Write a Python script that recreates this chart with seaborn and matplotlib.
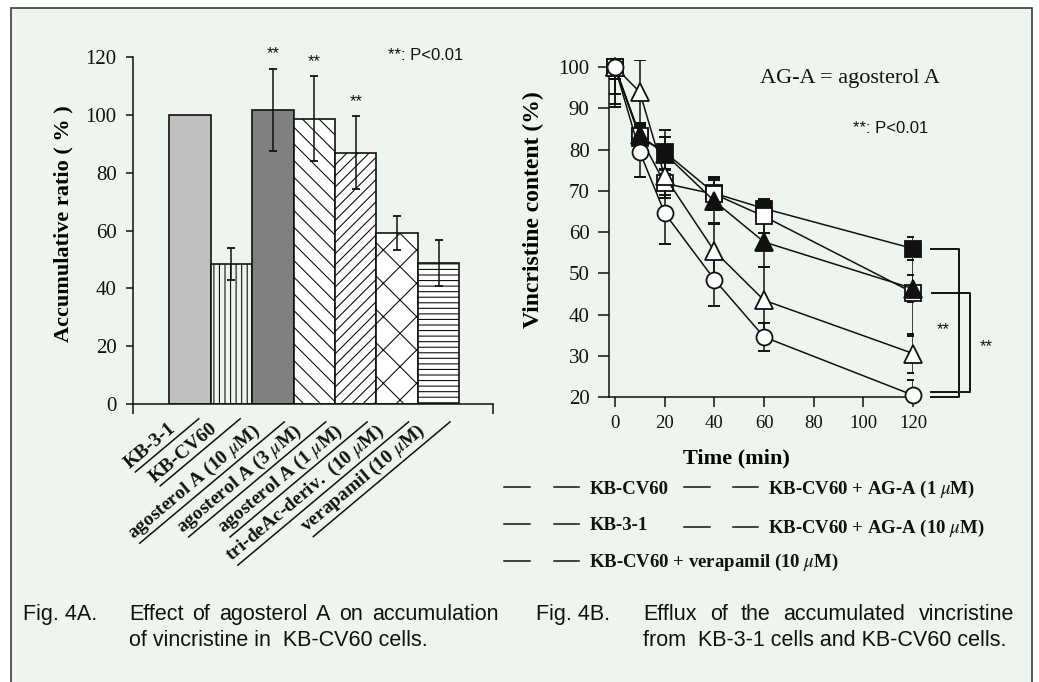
import numpy as np
import pandas as pd
import matplotlib
matplotlib.use("Agg")
import matplotlib.pyplot as plt
import matplotlib.transforms as mtransforms
from matplotlib.path import Path
from matplotlib.lines import Line2D
from matplotlib.patches import Rectangle
import seaborn as sns

# ---------------- data: Fig. 4A (bar chart) ----------------
bar_labels = ["KB-3-1", "KB-CV60", "agosterol A (10 $\\mu$M)", "agosterol A (3 $\\mu$M)",
              "agosterol A (1 $\\mu$M)", "tri-deAc-deriv.  (10 $\\mu$M)", "verapamil (10 $\\mu$M)"]
bar_values = [100.0, 48.4, 101.7, 98.6, 86.8, 59.2, 48.9]
bar_errors = [0.0, 5.5, 14.2, 14.6, 12.6, 5.8, 7.9]
bar_signif = ["", "", "**", "**", "**", "", ""]
bar_yticks = [0, 20, 40, 60, 80, 100, 120]

# ---------------- data: Fig. 4B (efflux curves) ----------------
time_min = [0, 10, 20, 40, 60, 120]
kb31_vals = [100, 82.9, 79.4, 69.4, 65.7, 56.0]          # filled square
kb31_err = [3.0, 3.0, 5.4, 4.0, 2.4, 2.7]
aga1_vals = [100, 83.2, 71.8, 69.2, 63.8, 45.3]          # open square
aga1_err = [6.5, 2.5, 3.5, 3.5, 4.0, 10.5]
aga10_vals = [100, 83.5, 79.0, 67.5, 57.6, 46.3]         # filled triangle
aga10_err = [3.0, 3.0, 4.0, 5.5, 6.0, 3.2]
verap_vals = [100, 93.9, 73.5, 55.4, 43.5, 30.6]         # open triangle
verap_err = [8.9, 7.7, 4.5, 6.7, 8.0, 4.7]
kbcv_vals = [100, 79.4, 64.6, 48.5, 34.6, 20.5]          # open circle
kbcv_err = [9.7, 6.0, 7.6, 6.4, 3.4, 3.8]
line_xticks = [0, 20, 40, 60, 80, 100, 120]
line_yticks = [20, 30, 40, 50, 60, 70, 80, 90, 100]

legend_col1 = ["KB-CV60", "KB-3-1", "KB-CV60 + verapamil (10 $\\mu$M)"]
legend_col2 = ["KB-CV60 + AG-A (1 $\\mu$M)", "KB-CV60 + AG-A (10 $\\mu$M)"]

# ---------------- styles ----------------
W, H, DPI = 1039, 682, 100
BG = "#eef5ee"
INK = "#111111"
SERIF = ["Liberation Serif", "DejaVu Serif"]
SANS = ["Liberation Sans", "DejaVu Sans"]
bar_colors = ["#c0c0c0", BG, "#808080", "white", "white", "white", "white"]
bar_hatches = [None, "|||", None, "\\\\", "///", "x", "---"]

plt.rcParams.update({
    "font.family": SERIF,
    "mathtext.fontset": "stix",
    "hatch.linewidth": 0.8,
    "hatch.color": INK,
    "axes.linewidth": 1.1,
    "axes.edgecolor": INK,
    "xtick.color": INK,
    "ytick.color": INK,
})

fig = plt.figure(figsize=(W / DPI, H / DPI), dpi=DPI, facecolor="white")


def fx(x):
    return x / W


def fy(y):
    return 1 - y / H


# panel frame
fig.add_artist(Rectangle((fx(11), fy(H + 5)), fx(1031.5) - fx(11), fy(7.5) - fy(H + 5),
                         transform=fig.transFigure, facecolor=BG, edgecolor="#3a3a3a",
                         linewidth=1.2, zorder=-10))

# ================= Fig. 4A =================
ax1 = fig.add_axes([fx(133.3), fy(404.3), fx(493.3) - fx(133.3), fy(56.7) - fy(404.3)])
ax1.set_facecolor("none")
df_bar = pd.DataFrame({"cond": bar_labels, "ratio": bar_values})
sns.barplot(data=df_bar, x="cond", y="ratio", hue="cond", palette=bar_colors,
            saturation=1, width=1.0, edgecolor=INK, linewidth=1.2, errorbar=None,
            legend=False, ax=ax1)
for patch, hatch in zip(ax1.patches, bar_hatches):
    if hatch:
        patch.set_hatch(hatch)

idx = [i for i, e in enumerate(bar_errors) if e > 0]
ax1.errorbar([i for i in idx], [bar_values[i] for i in idx], yerr=[bar_errors[i] for i in idx],
             fmt="none", ecolor=INK, elinewidth=1.1, capsize=3, capthick=1.3, zorder=5)

for i, s in enumerate(bar_signif):
    if s:
        ax1.text(i, bar_values[i] + bar_errors[i] + 5, s, ha="center", va="center",
                 fontsize=12, family=SANS, color=INK)
ax1.text(4.78, 118.7, "**: P<0.01", ha="left", va="baseline", fontsize=12,
         family=SANS, color=INK)

xl0, xl1 = -1.37, 7.32
ax1.set_xlim(xl0, xl1)
ax1.set_ylim(0, 120)
ax1.set_yticks(bar_yticks)
ax1.set_yticklabels([str(v) for v in bar_yticks], fontsize=15)
ax1.set_xticks([])
ax1.set_xticks([xl0, xl1], minor=True)
ax1.tick_params(axis="x", which="minor", length=7, width=1.1, direction="out")
ax1.tick_params(axis="y", length=5, width=1.1, direction="out", pad=7)
ax1.set_xlabel("")
for side in ("top", "right"):
    ax1.spines[side].set_visible(False)
ax1.set_ylabel("Accumulative ratio ( % )", fontsize=16, fontweight="bold", va="center")
ax1.yaxis.set_label_coords(-0.1953, 0.5207)


def underline_box(x0, y0, width, height, mutation_size):
    yy = y0 - 0.08 * mutation_size
    return Path([(x0 + 0.1 * mutation_size, yy), (x0 + width + 1.3 * mutation_size, yy)])


lab_tr = ax1.get_xaxis_transform() + mtransforms.ScaledTranslation(-0.22, -0.16, fig.dpi_scale_trans)
for i, lab in enumerate(bar_labels):
    ax1.text(i, 0, lab, transform=lab_tr, rotation=40, rotation_mode="anchor",
             ha="right", va="top", fontsize=14, fontweight="bold", color=INK,
             bbox=dict(boxstyle=underline_box, facecolor="none", edgecolor=INK, linewidth=1.1))

# ================= Fig. 4B =================
ax2 = fig.add_axes([fx(609), fy(397.3), fx(913.2) - fx(609), fy(60.3) - fy(397.3)])
ax2.set_facecolor("none")
series = [
    (kb31_vals, kb31_err, "s", INK, 3),
    (aga1_vals, aga1_err, "s", "white", 4),
    (aga10_vals, aga10_err, "^", INK, 5),
    (verap_vals, verap_err, "^", "white", 6),
    (kbcv_vals, kbcv_err, "o", "white", 7),
]
for vals, errs, mk, fc, z in series:
    ax2.errorbar(time_min, vals, yerr=errs, fmt="none", ecolor=INK, elinewidth=1.1,
                 capsize=4.5, capthick=1.4, zorder=2)
    sns.lineplot(x=time_min, y=vals, ax=ax2, color=INK, linewidth=1.1, marker=mk,
                 markersize=11.5 if mk != "^" else 12.5, markerfacecolor=fc,
                 markeredgecolor=INK, markeredgewidth=1.3, errorbar=None, legend=False,
                 zorder=z, clip_on=False)

ax2.set_xlim(-2.4, 120)
ax2.set_ylim(20, 101.6)
ax2.set_xticks(line_xticks)
ax2.set_xticklabels([str(v) for v in line_xticks], fontsize=13.5)
ax2.set_yticks(line_yticks)
ax2.set_yticklabels([str(v) for v in line_yticks], fontsize=15)
ax2.tick_params(axis="x", length=7, width=1.1, direction="out", pad=6)
ax2.tick_params(axis="y", length=8, width=1.1, direction="out", pad=6)
for side in ("top", "right"):
    ax2.spines[side].set_visible(False)
ax2.set_ylabel("Vincristine content (%)", fontsize=17, fontweight="bold", va="center")
ax2.yaxis.set_label_coords(-0.2498, 0.5558)
ax2.set_xlabel("Time (min)", fontsize=16, fontweight="bold", va="center")
ax2.xaxis.set_label_coords(0.4175, -0.181)

ax2.text(94.7, 96.0, "AG-A = agosterol A", ha="center", va="baseline", fontsize=16, color=INK)
ax2.text(95.9, 83.9, "**: P<0.01", ha="left", va="baseline", fontsize=12, family=SANS, color=INK)

# significance brackets at 120 min
b1_top, b1_bot = kb31_vals[-1], 20.0
b2_top, b2_bot = aga1_vals[-1], kbcv_vals[-1] + 0.8
ax2.plot([127.0, 138.6, 138.6, 127.3], [b1_top, b1_top, b1_bot, b1_bot], color=INK,
         lw=1.4, clip_on=False)
ax2.plot([127.5, 142.9, 142.9, 127.0], [b2_top, b2_top, b2_bot, b2_bot], color=INK,
         lw=1.4, clip_on=False)
ax2.text(132.0, 36.5, "**", ha="center", va="center", fontsize=12, family=SANS, color=INK)
ax2.text(149.3, 32.3, "**", ha="center", va="center", fontsize=12, family=SANS, color=INK)

# legend (line samples without markers, as in the original)
def legend_entry(x0, yc, label):
    for a, b in ((0, 26), (49.5, 74.5)):
        fig.add_artist(Line2D([fx(x0 + a), fx(x0 + b)], [fy(yc), fy(yc)],
                              transform=fig.transFigure, color=INK, lw=1.1))
    fig.text(fx(x0 + 85), fy(yc + 6.2), label, ha="left", va="baseline",
             fontsize=13.5, fontweight="bold", color=INK)


for lab, yc in zip(legend_col1, [487.3, 524.0, 560.7]):
    legend_entry(504.4, yc, lab)
for lab, yc in zip(legend_col2, [487.3, 526.7]):
    legend_entry(683.5, yc, lab)

# ---------------- captions ----------------
renderer = fig.canvas.get_renderer()
CAP = dict(fontsize=15.5, family=SANS, color="#111111", va="baseline", ha="left")


def justified(words, x0, x1, ybase):
    texts = [fig.text(0, fy(ybase), w, **CAP) for w in words]
    widths = [t.get_window_extent(renderer).width for t in texts]
    gap = (x1 - x0 - sum(widths)) / (len(words) - 1)
    x = x0
    for t, w in zip(texts, widths):
        t.set_x(fx(x))
        x += w + gap


fig.text(fx(22.7), fy(620), "Fig. 4A.", **CAP)
justified("Effect of agosterol A on accumulation".split(), 129.3, 498.3, 620)
fig.text(fx(129.3), fy(645.5), "of vincristine in  KB-CV60 cells.", **CAP)

fig.text(fx(536.3), fy(620), "Fig. 4B.", **CAP)
justified("Efflux of the accumulated vincristine".split(), 643.0, 1014.0, 620)
fig.text(fx(643.0), fy(645.5), "from  KB-3-1 cells and KB-CV60 cells.", **CAP)

fig.savefig("out.png", dpi=DPI, facecolor="white")
